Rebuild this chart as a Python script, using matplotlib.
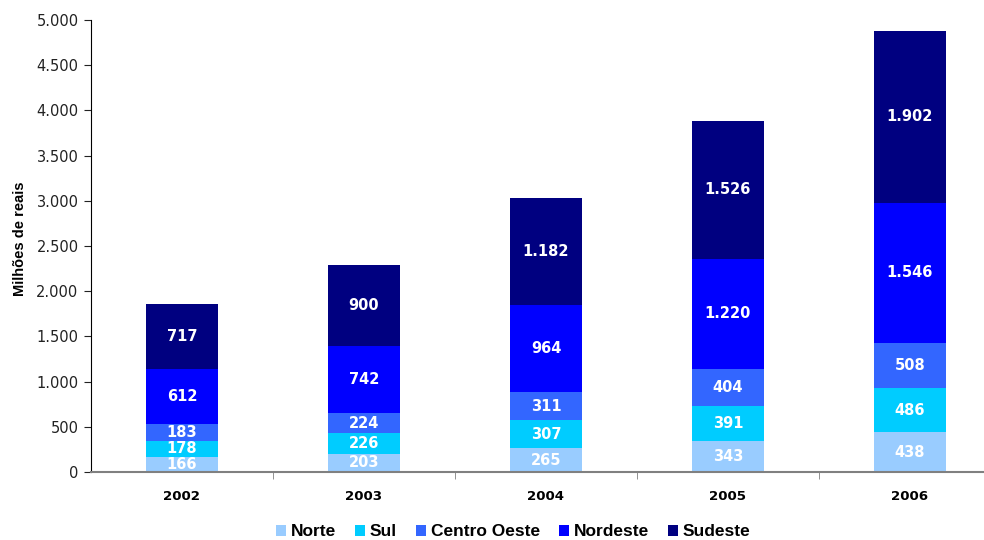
import numpy as np
import matplotlib.pyplot as plt
from matplotlib.ticker import FuncFormatter, FixedLocator

plt.rcParams['font.family'] = ['DejaVu Sans']

# data
years = ['2002', '2003', '2004', '2005', '2006']
regions = ['Norte', 'Sul', 'Centro Oeste', 'Nordeste', 'Sudeste']
norte = [166, 203, 265, 343, 438]
sul = [178, 226, 307, 391, 486]
centro_oeste = [183, 224, 311, 404, 508]
nordeste = [612, 742, 964, 1220, 1546]
sudeste = [717, 900, 1182, 1526, 1902]
colors = ['#99CCFF', '#00CCFF', '#3366FF', '#0000FF', '#000080']

series = [norte, sul, centro_oeste, nordeste, sudeste]

fig = plt.figure(figsize=(9.84, 5.4), dpi=100)
ax = fig.add_axes([91 / 984, 68 / 540, 910 / 984, 452 / 540])

x = np.arange(len(years))
bottom = np.zeros(len(years))
for name, vals, c in zip(regions, series, colors):
    ax.bar(x, vals, 0.4, bottom=bottom, color=c, label=name)
    for xi, b, v in zip(x, bottom, vals):
        ax.text(xi, b + v / 2, f'{v:,}'.replace(',', '.'), ha='center', va='center',
                color='white', fontsize=10.5, fontweight='bold')
    bottom += np.array(vals)

ax.set_xlim(-0.5, 4.5)
ax.set_ylim(0, 5000)
ax.set_yticks(np.arange(0, 5001, 500))
ax.yaxis.set_major_formatter(FuncFormatter(lambda v, p: f'{int(v):,}'.replace(',', '.')))
ax.set_xticks(x)
ax.set_xticklabels(years, fontsize=9.6, fontweight='bold')
ax.tick_params(axis='x', length=0, pad=13)
ax.xaxis.set_minor_locator(FixedLocator(x[:-1] + 0.5))
ax.tick_params(axis='x', which='minor', length=5, color='#808080')
ax.tick_params(axis='y', labelsize=10.5, length=5, pad=4, colors='#222222')
ax.set_ylabel('Milhões de reais', fontsize=10.5, fontweight='bold',
              family='Liberation Sans')
ax.yaxis.set_label_coords(-64 / 910, 233 / 452)

for s in ['top', 'right']:
    ax.spines[s].set_visible(False)
ax.spines['bottom'].set_color('#808080')
ax.spines['bottom'].set_linewidth(1.5)
ax.spines['left'].set_color('black')

ax.legend(loc='center', bbox_to_anchor=(513 / 984, 8 / 540), bbox_transform=fig.transFigure,
          ncol=5, frameon=False, handlelength=0.6, handleheight=0.6,
          handletextpad=0.25, columnspacing=1.1, borderpad=0,
          prop={'weight': 'bold', 'size': 12.5, 'family': 'Liberation Sans'})

plt.savefig('out.png', dpi=100)
